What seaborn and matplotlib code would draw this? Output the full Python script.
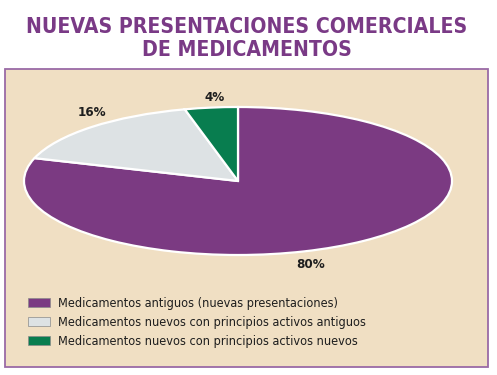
import matplotlib
matplotlib.use("Agg")
import matplotlib.pyplot as plt
import seaborn as sns
from matplotlib.patches import Rectangle, Patch

# ---- data ----
categories = [
    "Medicamentos antiguos (nuevas presentaciones)",
    "Medicamentos nuevos con principios activos antiguos",
    "Medicamentos nuevos con principios activos nuevos",
]
values = [80, 16, 4]
pct_labels = ["80%", "16%", "4%"]
title_lines = ["NUEVAS PRESENTACIONES COMERCIALES", "DE MEDICAMENTOS"]

# ---- styles ----
colors = ["#7b3a82", "#dde2e4", "#087d4f"]
label_pos = [(0.34, -1.13), (-0.68, 0.92), (-0.11, 1.13)]
beige = "#f0dfc3"
purple_title = "#7a3a86"
border = "#9a6aa6"

sns.set_style("white")
plt.rcParams["font.family"] = ["DejaVu Sans"]
plt.rcParams["font.stretch"] = "condensed"

fig = plt.figure(figsize=(4.97, 3.75), dpi=100)
fig.patch.set_facecolor("white")

# beige box
box = Rectangle((5 / 497, 1 - 367 / 375), 483 / 497, 298 / 375,
                transform=fig.transFigure, facecolor=beige,
                edgecolor=border, linewidth=1.3, zorder=-1)
fig.patches.append(box)

# title
for i, line in enumerate(title_lines):
    fig.text(0.497, 1 - (27 + 23 * i) / 375, line, ha="center", va="center",
             fontsize=15.2, fontweight="bold", color=purple_title,
             fontstretch="condensed")

# pie axes (ellipse)
ax = fig.add_axes([24 / 497, 1 - 255 / 375, 428 / 497, 148 / 375])
ax.set_zorder(2)
wedges, _ = ax.pie(values, colors=colors, startangle=90, counterclock=False,
                   radius=1.0,
                   wedgeprops=dict(edgecolor="white", linewidth=1.6))
ax.set_aspect("auto")
ax.set_xlim(-1, 1)
ax.set_ylim(-1, 1)
ax.patch.set_alpha(0)
ax.axis("off")

for txt, (x, y) in zip(pct_labels, label_pos):
    ax.text(x, y, txt, ha="center", va="center", fontsize=9.5,
            fontweight="bold", color="#1e1e1e", fontstretch="condensed")

handles = [Patch(facecolor=c, edgecolor="#8a8a8a", linewidth=0.5) for c in colors]
leg = fig.legend(handles=handles, labels=categories, loc="upper left",
                 bbox_to_anchor=(28 / 497, 1 - 296.5 / 375), frameon=False,
                 borderpad=0, borderaxespad=0, handlelength=1.75, handleheight=0.7,
                 handletextpad=0.6, labelspacing=0.48, fontsize=9.1,
                 labelcolor="#1e1e1e")
leg.set_zorder(3)

fig.savefig("out.png", dpi=100, facecolor="white")
